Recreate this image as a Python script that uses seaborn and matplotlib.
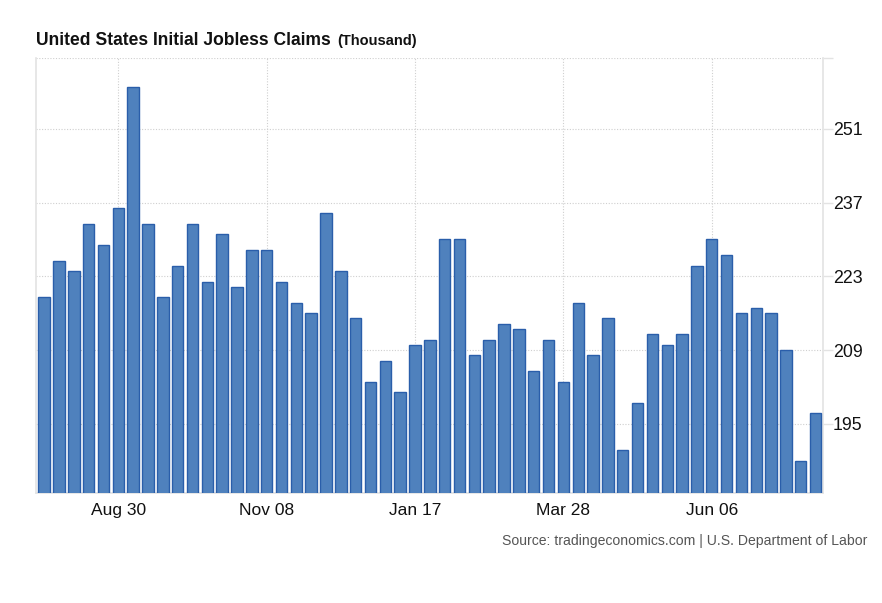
import matplotlib
matplotlib.use("Agg")
import matplotlib.pyplot as plt
import pandas as pd
import seaborn as sns

# weekly initial jobless claims, thousands
claims = [219, 226, 224, 233, 229, 236, 259, 233, 219, 225,
          233, 222, 231, 221, 228, 228, 222, 218, 216, 235,
          224, 215, 203, 207, 201, 210, 211, 230, 230, 208,
          211, 214, 213, 205, 211, 203, 218, 208, 215, 190,
          199, 212, 210, 212, 225, 230, 227, 216, 217, 216,
          209, 188, 197]
weeks = pd.date_range("2018-07-26", periods=len(claims), freq="7D")
tick_labels = ["Aug 30", "Nov 08", "Jan 17", "Mar 28", "Jun 06"]
y_ticks = [195, 209, 223, 237, 251]

BAR_FILL = "#4f81bd"
BAR_EDGE = "#2a5eaa"
GRID = "#cfcfcf"
SPINE = "#e3e3e3"

df = pd.DataFrame({"week": weeks.strftime("%b %d"), "claims": claims})

sns.set_style("white")
plt.rcParams["font.family"] = ["Liberation Sans", "DejaVu Sans"]

fig = plt.figure(figsize=(8.82, 6.03), dpi=100)
ax = fig.add_axes([0.0408, 0.1819, 0.8923, 0.7214])

sns.barplot(data=df, x="week", y="claims", color=BAR_FILL, saturation=1,
            width=0.77, edgecolor=BAR_EDGE, linewidth=1.0, ax=ax, zorder=3)

ax.set_xlim(-0.55, len(claims) - 0.5)
ax.set_ylim(181.8, 264.4)

# x ticks only on the labelled weeks
pos = [i for i, w in enumerate(df["week"]) if w in tick_labels]
ax.set_xticks(pos)
ax.set_xticklabels([df["week"][i] for i in pos])
ax.tick_params(axis="x", length=0, pad=7, labelsize=12.5, labelcolor="#111111")

ax.yaxis.tick_right()
ax.set_yticks(y_ticks + [264.4])
ax.set_yticklabels([str(v) for v in y_ticks] + [""])
ax.tick_params(axis="y", length=7, width=1, color=SPINE, pad=0,
               labelsize=12.8, labelcolor="#111111")

ax.grid(True, axis="both", color=GRID, linestyle=(0, (1, 1.5)), linewidth=0.8, zorder=0)
ax.set_axisbelow(True)

ax.set_xlabel("")
ax.set_ylabel("")
for side in ["left", "right", "bottom"]:
    ax.spines[side].set_visible(True)
    ax.spines[side].set_color(SPINE)
    ax.spines[side].set_linewidth(1.2)
ax.spines["top"].set_visible(False)

fig.text(36 / 882, 1 - 45 / 603, "United States Initial Jobless Claims",
         fontsize=12.65, fontweight="bold", color="#111111", ha="left", va="baseline")
fig.text(337 / 882, 1 - 45 / 603, "(Thousand)",
         fontsize=10.5, fontweight="bold", color="#111111", ha="left", va="baseline")
fig.text(867 / 882, 1 - 545 / 603, "Source: tradingeconomics.com | U.S. Department of Labor",
         fontsize=10.1, color="#555555", ha="right", va="baseline")

fig.savefig("out.png", dpi=100)
